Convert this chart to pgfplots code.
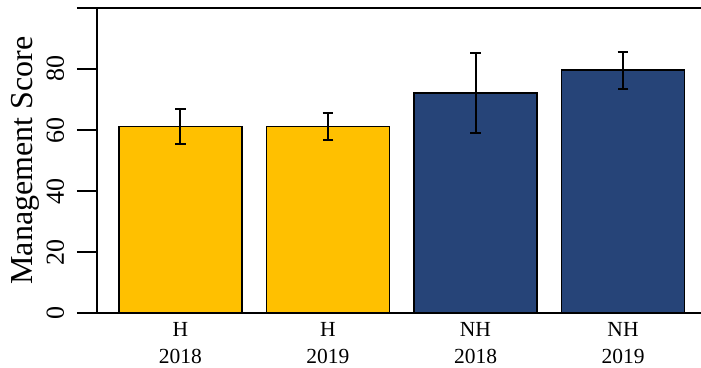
\documentclass[border=0pt]{standalone}
\usepackage{pgfplots}
\pgfplotsset{compat=1.18}
\usepackage{fontspec}
\setmainfont{Liberation Serif}
\definecolor{hyel}{HTML}{FFC000}
\definecolor{nhblue}{HTML}{264478}
\begin{document}
\begin{tikzpicture}
\begin{axis}[
  scale only axis,
  width=612pt, height=305pt,
  xmin=-0.566, xmax=3.583,
  ymin=0, ymax=100,
  axis line style={line width=1.5pt},
  /pgf/number format/assume math mode=true,
  ytick={0,20,40,60,80,100},
  yticklabels={0,20,40,60,80,{}},
  ytick pos=left,
  xtick pos=bottom,
  ytick align=outside,
  xtick align=inside,
  major tick length=20pt,
  ytick style={line width=2.2pt, draw=black},
  xtick style={draw=none},
  yticklabel style={font=\fontsize{26}{26}\selectfont, xshift=-12.7pt, rotate=90, anchor=south, inner sep=0pt},
  xtick={0,1,2,3},
  xticklabels={{H\\2018},{H\\2019},{NH\\2018},{NH\\2019}},
  xticklabel style={align=center, font=\fontsize{21.5}{27.3}\selectfont, inner sep=0pt, yshift=-9.2pt},
  ylabel={Management Score},
  ylabel style={font=\fontsize{32}{32}\selectfont, at={(rel axis cs:-0.1062,0.5)}, anchor=base, inner sep=0pt},
  bar width=0.834,
  clip=false,
]
\addplot[ybar, fill=hyel, draw=black, line width=1.5pt,
  error bars/.cd, y dir=both, y explicit,
  error bar style={line width=2pt, solid, black},
  error mark options={rotate=90, mark size=5.3pt, line width=2pt, black}]
  coordinates {(0,61.1) +- (0,5.8) (1,61.1) +- (0,4.5)};
\addplot[ybar, fill=nhblue, draw=black, line width=1.5pt,
  error bars/.cd, y dir=both, y explicit,
  error bar style={line width=2pt, solid, black},
  error mark options={rotate=90, mark size=5.3pt, line width=2pt, black}]
  coordinates {(2,72.2) +- (0,13.2) (3,79.6) +- (0,6.1)};
\end{axis}
\pgfresetboundingbox
\path[use as bounding box] (-97pt,-54pt) rectangle (604pt,313pt);
\end{tikzpicture}
\end{document}
